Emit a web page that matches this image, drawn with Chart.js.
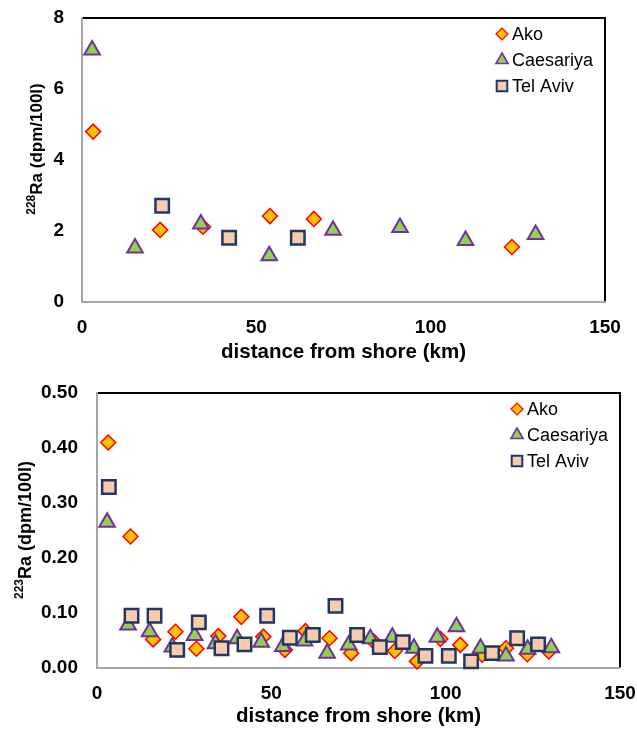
<!DOCTYPE html>
<html>
<head>
<meta charset="utf-8">
<script src="https://cdn.jsdelivr.net/npm/chart.js@4.4.1/dist/chart.umd.min.js"></script>
<style>
html, body { margin: 0; padding: 0; background: #fff; }
#top { position: absolute; left: 0; top: 0; width: 637px; height: 365px; }
#bot { position: absolute; left: 0; top: 365px; width: 637px; height: 364px; }
</style>
</head>
<body>
<div id="top"><canvas id="graf"></canvas></div>
<div id="bot"><canvas id="graf1"></canvas></div>
<script>
// distances (km) and activities
var seriesNames = ['Ako', 'Caesariya', 'Tel Aviv'];
var xTicks = [0, 50, 100, 150];

// 228Ra (dpm/100l)
var ra228AkoKm = [3.2, 22.4, 34.7, 53.9, 66.5, 123.3];
var ra228AkoVal = [4.8, 2.03, 2.12, 2.42, 2.34, 1.55];
var ra228CaesKm = [2.9, 15.2, 34.1, 53.7, 72.0, 91.2, 110.0, 130.1];
var ra228CaesVal = [7.1, 1.52, 2.2, 1.3, 2.02, 2.1, 1.73, 1.9];
var ra228TelKm = [23.0, 42.2, 61.9];
var ra228TelVal = [2.71, 1.81, 1.81];
var ra228Ticks = [0, 2, 4, 6, 8];

// 223Ra (dpm/100l)
var ra223AkoKm = [3.2, 9.6, 16.1, 22.5, 28.5, 34.8, 41.4, 47.7, 53.9, 59.8, 66.7, 72.9, 79.4, 85.4, 91.8, 98.5, 104.2, 110.5, 117.3, 123.4, 129.6];
var ra223AkoVal = [0.41, 0.239, 0.052, 0.066, 0.035, 0.058, 0.093, 0.057, 0.033, 0.067, 0.054, 0.027, 0.048, 0.031, 0.012, 0.053, 0.042, 0.024, 0.036, 0.025, 0.030];
var ra223CaesKm = [2.9, 8.9, 15.1, 21.6, 28.0, 34.0, 40.2, 47.1, 53.3, 59.5, 66.0, 72.2, 78.4, 84.7, 90.9, 97.6, 103.1, 110.0, 117.3, 123.5, 130.3];
var ra223CaesVal = [0.265, 0.078, 0.066, 0.038, 0.059, 0.044, 0.053, 0.047, 0.039, 0.049, 0.027, 0.042, 0.053, 0.056, 0.036, 0.056, 0.075, 0.036, 0.022, 0.034, 0.037];
var ra223TelKm = [3.4, 9.9, 16.5, 23.0, 29.2, 35.7, 42.3, 48.8, 55.3, 61.9, 68.4, 74.6, 81.1, 87.7, 94.2, 100.9, 107.3, 113.3, 120.5, 126.5];
var ra223TelVal = [0.329, 0.095, 0.095, 0.033, 0.083, 0.036, 0.043, 0.095, 0.055, 0.060, 0.113, 0.060, 0.038, 0.047, 0.022, 0.022, 0.012, 0.027, 0.054, 0.043];
var ra223Ticks = [0, 0.1, 0.2, 0.3, 0.4, 0.5];

var FONT = '"Liberation Sans", Arial, sans-serif';
Chart.defaults.font.family = FONT;
Chart.defaults.color = '#000';

function pts(xs, ys) {
    return xs.map(function (x, i) { return { x: x, y: ys[i] }; });
}

function makeSets(akoX, akoY, caesX, caesY, telX, telY) {
    return [{
        label: seriesNames[0], data: pts(akoX, akoY), order: 3,
        pointStyle: 'rectRot', pointRadius: 7.5,
        backgroundColor: '#FFC000', borderColor: '#FF0000', borderWidth: 1.5
    }, {
        label: seriesNames[1], data: pts(caesX, caesY), order: 2,
        pointStyle: 'triangle', pointRadius: 9,
        backgroundColor: '#92D050', borderColor: '#7030A0', borderWidth: 2
    }, {
        label: seriesNames[2], data: pts(telX, telY), order: 1,
        pointStyle: 'rect', pointRadius: 9.5,
        backgroundColor: '#F8CBAD', borderColor: '#1F3864', borderWidth: 2.5
    }];
}

// plot frame: black top/right, grey left/bottom
var frame = {
    id: 'frame',
    beforeDatasetsDraw: function (chart) {
        var ctx = chart.ctx, a = chart.chartArea;
        ctx.save();
        ctx.lineWidth = 2;
        ctx.strokeStyle = '#000';
        ctx.beginPath();
        ctx.moveTo(a.left, a.top);
        ctx.lineTo(a.right, a.top);
        ctx.lineTo(a.right, a.bottom);
        ctx.stroke();
        ctx.strokeStyle = '#a6a6a6';
        ctx.beginPath();
        ctx.moveTo(a.left, a.top - 1);
        ctx.lineTo(a.left, a.bottom);
        ctx.lineTo(a.right + 1, a.bottom);
        ctx.stroke();
        ctx.restore();
    }
};

// legend drawn inside the plot, top right
var insideLegend = {
    id: 'insideLegend',
    afterDraw: function (chart, args, o) {
        var ctx = chart.ctx, a = chart.chartArea;
        ctx.save();
        chart.data.datasets.forEach(function (ds, i) {
            var x = a.right - o.dx, y = a.top + o.rows[i];
            ctx.fillStyle = ds.backgroundColor;
            ctx.strokeStyle = ds.borderColor;
            ctx.lineWidth = ds.borderWidth * 0.8;
            Chart.helpers.drawPoint(ctx, {
                pointStyle: ds.pointStyle, radius: o.radius[i], rotation: 0, borderWidth: ds.borderWidth
            }, x, y);
            ctx.fillStyle = '#000';
            ctx.font = o.size + 'px ' + FONT;
            ctx.textAlign = 'left';
            ctx.textBaseline = 'middle';
            ctx.fillText(ds.label, x + o.gap, y + 1);
        });
        ctx.restore();
    }
};

// y title with a real superscript mass number
var supTitle = {
    id: 'supTitle',
    afterDraw: function (chart, args, o) {
        var ctx = chart.ctx;
        ctx.save();
        ctx.translate(o.x, o.y);
        ctx.rotate(-Math.PI / 2);
        ctx.fillStyle = '#000';
        ctx.textAlign = 'left';
        ctx.textBaseline = 'alphabetic';
        var supFont = 'bold ' + o.supSize + 'px ' + FONT;
        var mainFont = 'bold ' + o.size + 'px ' + FONT;
        ctx.font = supFont;
        var w1 = ctx.measureText(o.sup).width;
        ctx.font = mainFont;
        var w2 = ctx.measureText(o.main).width;
        var start = -(w1 + w2) / 2;
        ctx.font = supFont;
        ctx.fillText(o.sup, start, -o.rise);
        ctx.font = mainFont;
        ctx.fillText(o.main, start + w1, 0);
        ctx.restore();
    }
};

// keep tick-label overhang from pushing the plot area around
function noOverhang(s) {
    s.paddingTop = 0;
    s.paddingBottom = 0;
    s.paddingLeft = 0;
    s.paddingRight = 0;
}

function makeOptions(cfg) {
    return {
        responsive: true,
        maintainAspectRatio: false,
        animation: false,
        events: [],
        clip: false,
        layout: { autoPadding: false, padding: { top: cfg.padTop, right: cfg.padRight, left: 0, bottom: 0 } },
        plugins: {
            legend: { display: false },
            tooltip: { enabled: false },
            insideLegend: { dx: 103, gap: 10, rows: [16, 42, 68], radius: [6, 7, 7.5], size: 18 },
            supTitle: cfg.title
        },
        scales: {
            x: {
                type: 'linear', min: 0, max: 150,
                afterBuildTicks: function (s) { s.ticks = xTicks.map(function (v) { return { value: v }; }); },
                ticks: { color: '#000', font: { size: 19, weight: 'bold' }, padding: 14, maxRotation: 0, autoSkip: false },
                grid: { display: false, drawTicks: false },
                border: { display: false },
                title: { display: true, text: 'distance from shore (km)', color: '#000', font: { size: 20.5, weight: 'bold' }, padding: 0 },
                afterFit: function (s) { s.height = cfg.xHeight; noOverhang(s); }
            },
            y: {
                type: 'linear', min: 0, max: cfg.yMax,
                afterBuildTicks: function (s) { s.ticks = cfg.yTicks.map(function (v) { return { value: v }; }); },
                ticks: {
                    color: '#000', font: { size: 19, weight: 'bold' }, padding: cfg.yPad, autoSkip: false,
                    callback: function (v) { return v.toFixed(cfg.dec); }
                },
                grid: { display: false, drawTicks: false },
                border: { display: false },
                afterFit: function (s) { s.width = cfg.yWidth; noOverhang(s); }
            }
        }
    };
}

var ctx = document.getElementById('graf').getContext('2d');
var graf = new Chart(ctx, {
    type: 'scatter',
    data: { datasets: makeSets(ra228AkoKm, ra228AkoVal, ra228CaesKm, ra228CaesVal, ra228TelKm, ra228TelVal) },
    options: makeOptions({
        padTop: 18, padRight: 32, xHeight: 63, yWidth: 82, yPad: 18,
        yMax: 8, yTicks: ra228Ticks, dec: 0,
        title: { sup: '228', main: 'Ra (dpm/100l)', x: 42, y: 149, size: 17, supSize: 12, rise: 7 }
    }),
    plugins: [frame, insideLegend, supTitle]
});

var ctx1 = document.getElementById('graf1').getContext('2d');
var graf1 = new Chart(ctx1, {
    type: 'scatter',
    data: { datasets: makeSets(ra223AkoKm, ra223AkoVal, ra223CaesKm, ra223CaesVal, ra223TelKm, ra223TelVal) },
    options: makeOptions({
        padTop: 28, padRight: 17, xHeight: 61, yWidth: 97, yPad: 19,
        yMax: 0.5, yTicks: ra223Ticks, dec: 2,
        title: { sup: '223', main: 'Ra (dpm/100l)', x: 31, y: 165, size: 18, supSize: 12, rise: 8 }
    }),
    plugins: [frame, insideLegend, supTitle]
});
</script>
</body>
</html>
